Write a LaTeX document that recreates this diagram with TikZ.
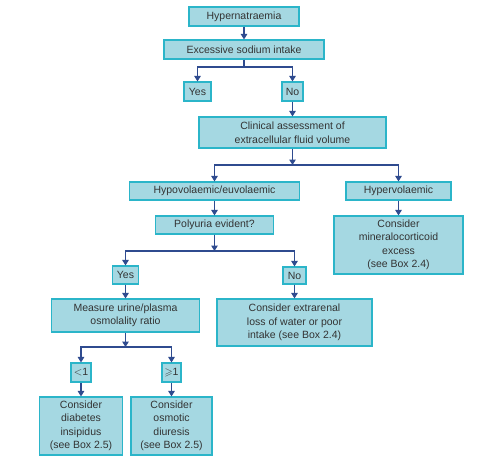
\documentclass[tikz,border=0pt]{standalone}
\usepackage{amssymb}
\usepackage{fontspec}
\setmainfont{Liberation Sans}
\usetikzlibrary{arrows.meta}
\definecolor{boxfill}{HTML}{A5D8E2}
\definecolor{boxline}{HTML}{2BB5C9}
\definecolor{arrowc}{HTML}{2F4B8F}
\definecolor{txt}{HTML}{333333}
\begin{document}
\begin{tikzpicture}[x=1pt,y=-1pt,
  box/.style={draw=boxline, fill=boxfill, line width=1.1pt, inner sep=0pt, align=center,
    text=txt, font=\fontsize{10.5}{13.5}\selectfont, rectangle},
  arr/.style={-{Triangle[width=6.5pt,length=5.5pt]}, line width=1.1pt, draw=arrowc},
  ln/.style={line width=1.1pt, draw=arrowc}]
\fill[white] (0,0) rectangle (486,458);
\useasboundingbox (0,0) rectangle (486,458);

\node[box, minimum width=110pt, minimum height=19pt] (hyper) at (244,16.5) {Hypernatraemia};
\node[box, minimum width=160pt, minimum height=19pt] (excess) at (244,49.5) {Excessive sodium intake};
\node[box, minimum width=27pt, minimum height=19pt] (yes1) at (197.5,91.5) {Yes};
\node[box, minimum width=21pt, minimum height=19pt] (no1) at (292.5,91.5) {No};
\node[box, minimum width=187pt, minimum height=31pt] (clin) at (292.5,132.5) {Clinical assessment of\\extracellular fluid volume};
\node[box, minimum width=170pt, minimum height=18pt] (hypo) at (214.5,191) {Hypovolaemic/euvolaemic};
\node[box, minimum width=105pt, minimum height=18pt] (hyperv) at (398.5,191) {Hypervolaemic};
\node[box, minimum width=129pt, minimum height=58pt] (mineral) at (398.5,245) {Consider\\mineralocorticoid\\excess\\(see Box 2.4)};
\node[box, minimum width=118pt, minimum height=18pt] (poly) at (214.5,225) {Polyuria evident?};
\node[box, minimum width=26pt, minimum height=18pt] (yes2) at (125.5,275) {Yes};
\node[box, minimum width=23pt, minimum height=17pt] (no2) at (294.5,275.5) {No};
\node[box, minimum width=155pt, minimum height=47pt] (extra) at (294.5,322.5) {Consider extrarenal\\loss of water or poor\\intake (see Box 2.4)};
\node[box, minimum width=148pt, minimum height=33pt] (measure) at (125.5,315.5) {Measure urine/plasma\\osmolality ratio};
\node[box, minimum width=20pt, minimum height=19pt] (lt1) at (81,372.5) {$<$1};
\node[box, minimum width=19pt, minimum height=19pt] (ge1) at (171.5,372.5) {$\geqslant$1};
\node[box, minimum width=83pt, minimum height=58pt] (diab) at (81,426) {Consider\\diabetes\\insipidus\\(see Box 2.5)};
\node[box, minimum width=81pt, minimum height=58pt] (osm) at (171.5,426) {Consider\\osmotic\\diuresis\\(see Box 2.5)};

\coordinate (j1) at (244,67);
\coordinate (j2) at (292.5,165);
\coordinate (j3) at (214.5,251);
\coordinate (j4) at (125.5,347);

\draw[arr] (hyper) -- (excess);
\draw[ln] (excess) -- (j1);
\draw[arr] (j1) -| (yes1);
\draw[arr] (j1) -| (no1);
\draw[arr] (no1) -- (clin);
\draw[arr] (clin) -- (j2);
\draw[arr] (j2) -| (hypo);
\draw[arr] (j2) -| (hyperv);
\draw[arr] (hypo) -- (poly);
\draw[arr] (hyperv) -- (mineral);
\draw[arr] (poly) -- (j3);
\draw[arr] (j3) -| (yes2);
\draw[arr] (j3) -| (no2);
\draw[arr] (yes2) -- (measure);
\draw[arr] (no2) -- (extra);
\draw[arr] (measure) -- (j4);
\draw[arr] (j4) -| (lt1);
\draw[arr] (j4) -| (ge1);
\draw[arr] (lt1) -- (diab);
\draw[arr] (ge1) -- (osm);
\end{tikzpicture}
\end{document}
